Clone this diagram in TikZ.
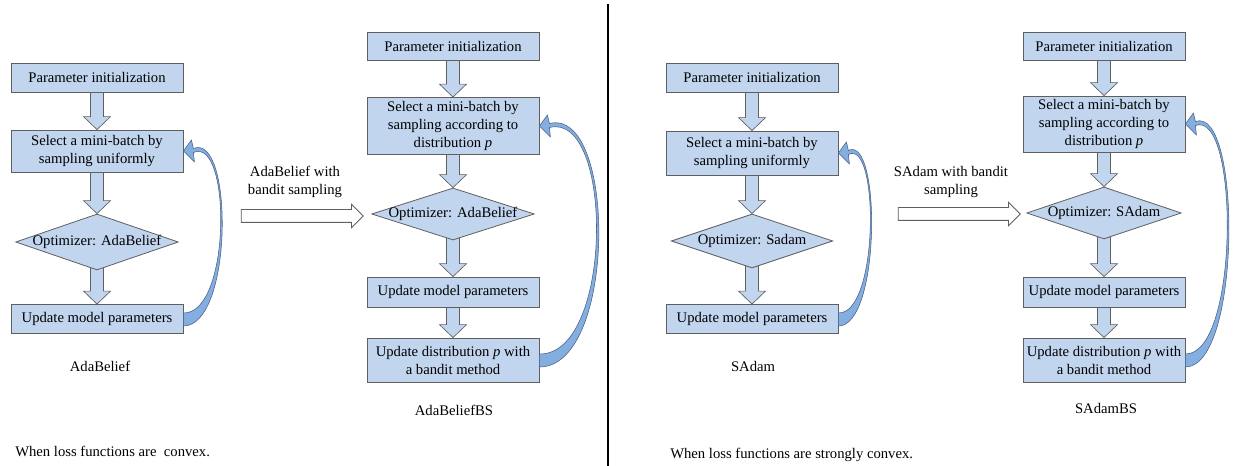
\documentclass[tikz,border=0pt]{standalone}
\usepackage{fontspec}
\setmainfont{Liberation Serif}
\usetikzlibrary{shapes.geometric,shapes.arrows,calc,backgrounds}

\definecolor{boxblue}{RGB}{193,213,238}
\definecolor{boxline}{RGB}{95,95,95}
\definecolor{loopblue}{RGB}{132,174,224}
\definecolor{loopline}{RGB}{70,95,130}

\tikzset{
  txt/.style={font=\fontsize{11}{13.5}\selectfont, inner sep=0.75pt},
  stepbox/.style={txt, draw=boxline, fill=boxblue, line width=0.6pt, align=center, minimum width=129pt},
  decision/.style={diamond, draw=boxline, fill=boxblue, line width=0.6pt, inner sep=0pt},
  fatarrow/.style={draw=boxline, fill=boxblue, line width=0.5pt, line join=miter},
  switcharrow/.style={single arrow, draw=boxline, fill=white, line width=0.6pt, inner xsep=0pt, inner ysep=4.5pt,
    minimum height=91.5pt, single arrow head extend=4pt},
  loopshape/.style={draw=loopline, fill=loopblue, line width=0.4pt}
}

% block arrow from one step down to the next
\newcommand{\blockdown}[2]{%
  \draw[fatarrow] ($(#1.south)+(-6.5,-5)$) -- ($(#2.north)+(-6.5,-13)$) -- ($(#2.north)+(-13.5,-13)$)
    -- (#2.north) -- ($(#2.north)+(13.5,-13)$) -- ($(#2.north)+(6.5,-13)$) -- ($(#1.south)+(6.5,-5)$) -- cycle;}

% curved feedback arrow, #3 = bulge
\newcommand{\loopback}[3]{%
  \draw[loopshape] ($(#1.east)+(0,-6)$) .. controls ($(#1.east)+({1.2*#3},-5)$) and ($(#2.east)+({1.2*#3},-15)$) .. ($(#2.east)+(10,1.5)$)
    -- ($(#2.east)+(11,11)$) -- (#2.east) -- ($(#2.east)+(8,-11)$) -- ($(#2.east)+(10,-2.5)$)
    .. controls ($(#2.east)+({1.25*#3},-19)$) and ($(#1.east)+({1.25*#3},7)$) .. ($(#1.east)+(0,7)$) -- cycle;}

\begin{document}
\begin{tikzpicture}[x=0.75pt,y=0.75pt,yscale=-1,xscale=1]
\useasboundingbox (0,0) rectangle (1235,466);

%AdaBelief
\node[stepbox, minimum height=21.75pt] (init1) at (97,77.5) {Parameter initialization};
\node[stepbox, minimum height=31.5pt] (sel1) at (97,151) {Select a mini-batch by\\sampling uniformly};
\node[decision, minimum width=122pt, minimum height=42pt, label={[txt]center:Optimizer: AdaBelief}] (opt1) at (97,242) {};
\node[stepbox, minimum height=21.75pt] (upd1) at (97,319) {Update model parameters};
\node[txt] (name1) at (100,366) {AdaBelief};

%AdaBeliefBS
\node[stepbox, minimum height=21pt] (init2) at (453,46) {Parameter initialization};
\node[stepbox, minimum height=42.75pt] (sel2) at (453,126) {Select a mini-batch by\\sampling according to\\distribution \textit{p}};
\node[decision, minimum width=122pt, minimum height=39pt, label={[txt]center:Optimizer: AdaBelief}] (opt2) at (453,214) {};
\node[stepbox, minimum height=22.5pt] (upd2) at (453,292) {Update model parameters};
\node[stepbox, minimum height=33pt] (dist2) at (453,360) {Update distribution \textit{p} with\\a bandit method};
\node[txt] (name2) at (454,410) {AdaBeliefBS};

%SAdam
\node[stepbox, minimum height=21.75pt] (init3) at (752,77.5) {Parameter initialization};
\node[stepbox, minimum height=33pt] (sel3) at (752,153) {Select a mini-batch by\\sampling uniformly};
\node[decision, minimum width=121pt, minimum height=40.5pt, label={[txt]center:Optimizer: Sadam}] (opt3) at (752,241) {};
\node[stepbox, minimum height=21.75pt] (upd3) at (752,319) {Update model parameters};
\node[txt] (name3) at (753,366) {SAdam};

%SAdamBS
\node[stepbox, minimum width=121.5pt, minimum height=21pt] (init4) at (1104,46) {Parameter initialization};
\node[stepbox, minimum width=121.5pt, minimum height=42pt] (sel4) at (1104,124) {Select a mini-batch by\\sampling according to\\distribution \textit{p}};
\node[decision, minimum width=116pt, minimum height=39pt, label={[txt]center:Optimizer: SAdam}] (opt4) at (1104,213) {};
\node[stepbox, minimum width=121.5pt, minimum height=22.5pt] (upd4) at (1104,292) {Update model parameters};
\node[stepbox, minimum width=121.5pt, minimum height=33pt] (dist4) at (1104,360) {Update distribution \textit{p} with\\a bandit method};
\node[txt] (name4) at (1106,408) {SAdamBS};

% Block arrows
\begin{scope}[on background layer]
\blockdown{init1}{sel1} \blockdown{sel1}{opt1} \blockdown{opt1}{upd1}
\blockdown{init2}{sel2} \blockdown{sel2}{opt2} \blockdown{opt2}{upd2} \blockdown{upd2}{dist2}
\blockdown{init3}{sel3} \blockdown{sel3}{opt3} \blockdown{opt3}{upd3}
\blockdown{init4}{sel4} \blockdown{sel4}{opt4} \blockdown{opt4}{upd4} \blockdown{upd4}{dist4}
\end{scope}

% Feedback arrows
\loopback{upd1}{sel1}{40}
\loopback{dist2}{sel2}{62}
\loopback{upd3}{sel3}{34}
\loopback{dist4}{sel4}{45}

% Switch to bandit sampling
\node[switcharrow] (go1) at (299,216) {};
\node[txt, align=center, anchor=south] (with1) at (295,199) {AdaBelief with\\bandit sampling};
\node[switcharrow] (go2) at (956,214) {};
\node[txt, align=center, anchor=south] (with2) at (951,199) {SAdam with bandit\\sampling};

%Straight Lines
\draw[line width=1.5pt] (608,4) -- (608,466);

% Text Node
\node[txt, anchor=west] (case1) at (14,451) {When loss functions are~ convex.};
\node[txt, anchor=west] (case2) at (669,455) {When loss functions are strongly convex.};
\end{tikzpicture}
\end{document}
